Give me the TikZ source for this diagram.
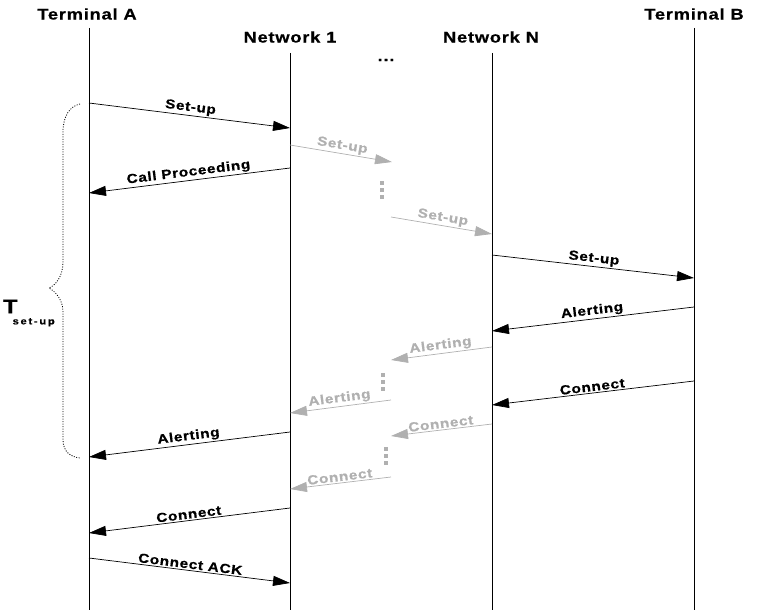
\documentclass[tikz,border=0pt]{standalone}
\usepackage{fontspec}
\setmainfont{Liberation Sans}[FakeStretch=1.18,LetterSpace=5,FakeBold=0.6]
\usetikzlibrary{arrows.meta}
\definecolor{FadedGray}{RGB}{176,176,176}

\begin{document}
\begin{tikzpicture}[
          x=1pt,y=-1pt,
          head/.style={inner sep=0pt,font=\fontsize{15.5}{18}\selectfont\bfseries},
          life/.style={line width=0.8pt,black},
          msg/.style={-{Triangle[length=17pt,width=10pt]},line width=0.7pt,black},
          faded/.style={msg,FadedGray},
          lbl/.style={midway,sloped,above,inner sep=1.5pt,
                      font=\fontsize{13}{15}\selectfont\bfseries},
          vdots/.style={FadedGray,line width=4pt,dash pattern=on 4pt off 3pt}
        ]
          \useasboundingbox (0,0) rectangle (758,610);

          % headers and lifelines
          \node(termA)[head] at (87,14) {Terminal A};
          \node(net1)[head] at (290,37) {Network 1};
          \node(dots)[head] at (386,60) {...};
          \node(netN)[head] at (491,37) {Network N};
          \node(termB)[head] at (694,14) {Terminal B};

          \coordinate (bot) at (0,610);
          \coordinate (lA) at (89,28);
          \coordinate (l1) at (290,53);
          \coordinate (lN) at (492,53);
          \coordinate (lB) at (694,28);
          \draw[life] (lA) -- (lA |- bot);
          \draw[life] (l1) -- (l1 |- bot);
          \draw[life] (lN) -- (lN |- bot);
          \draw[life] (lB) -- (lB |- bot);

          % message end points
          \coordinate (m1s) at (89,103);   \coordinate (m1e) at (290,128);
          \coordinate (m2s) at (290,145);  \coordinate (m2e) at (392,162);
          \coordinate (m3s) at (290,168);  \coordinate (m3e) at (89,193);
          \coordinate (m4s) at (391,217);  \coordinate (m4e) at (492,234);
          \coordinate (m5s) at (492,255);  \coordinate (m5e) at (694,278);
          \coordinate (m6s) at (694,307);  \coordinate (m6e) at (492,331);
          \coordinate (m7s) at (492,347);  \coordinate (m7e) at (391,360);
          \coordinate (m8s) at (694,381);  \coordinate (m8e) at (492,405);
          \coordinate (m9s) at (391,400);  \coordinate (m9e) at (290,413);
          \coordinate (m10s) at (492,424); \coordinate (m10e) at (391,436);
          \coordinate (m11s) at (290,432); \coordinate (m11e) at (89,457);
          \coordinate (m12s) at (391,477); \coordinate (m12e) at (290,489);
          \coordinate (m13s) at (290,508); \coordinate (m13e) at (89,533);
          \coordinate (m14s) at (89,558);  \coordinate (m14e) at (290,583);

          % messages
          \draw[msg] (m1s) -- node[lbl]{Set-up} (m1e);
          \draw[faded] (m2s) -- node[lbl]{Set-up} (m2e);
          \draw[msg] (m3s) -- node[lbl]{Call Proceeding} (m3e);
          \draw[faded] (m4s) -- node[lbl]{Set-up} (m4e);
          \draw[msg] (m5s) -- node[lbl]{Set-up} (m5e);
          \draw[msg] (m6s) -- node[lbl]{Alerting} (m6e);
          \draw[faded] (m7s) -- node[lbl]{Alerting} (m7e);
          \draw[msg] (m8s) -- node[lbl]{Connect} (m8e);
          \draw[faded] (m9s) -- node[lbl]{Alerting} (m9e);
          \draw[faded] (m10s) -- node[lbl]{Connect} (m10e);
          \draw[msg] (m11s) -- node[lbl]{Alerting} (m11e);
          \draw[faded] (m12s) -- node[lbl]{Connect} (m12e);
          \draw[msg] (m13s) -- node[lbl]{Connect} (m13e);
          \draw[msg] (m14s) -- node[lbl]{Connect ACK} (m14e);

          % skipped networks
          \draw[vdots] (382,181) -- (382,200);
          \draw[vdots] (383,373) -- (383,392);
          \draw[vdots] (386,447) -- (386,466);

          % set-up time
          \draw[line width=0.8pt,dash pattern=on 1pt off 1.5pt]
            (80,104) .. controls (70,106) and (63,116) .. (63,132) -- (63,262)
            .. controls (63,276) and (56,285) .. (49,288)
            .. controls (56,292) and (63,300) .. (63,312) -- (63,440)
            .. controls (63,452) and (71,457) .. (80,458);
          \node(tset)[inner sep=0pt,anchor=west] at (3,313)
            {\fontsize{20}{20}\selectfont\bfseries T\kern-5pt\raisebox{-11pt}{\fontsize{9.5}{10}\selectfont\addfontfeature{LetterSpace=18}set-up}};
        \end{tikzpicture}
\end{document}
